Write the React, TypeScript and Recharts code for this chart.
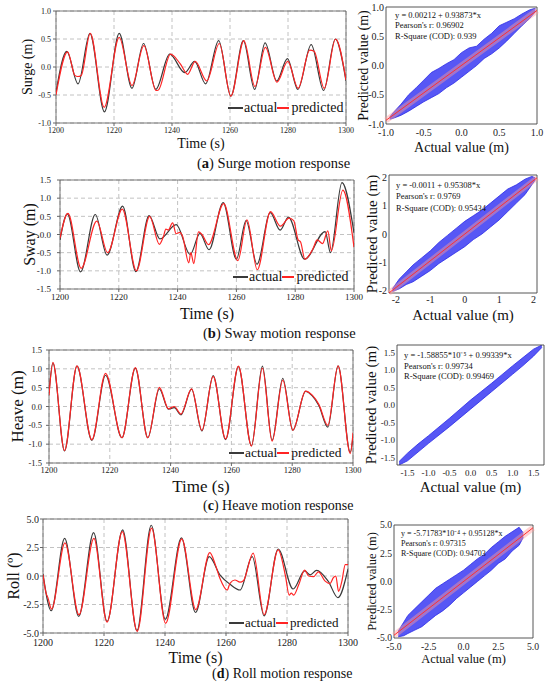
import React from 'react';
import {
  LineChart,
  Line,
  AreaChart,
  Area,
  XAxis,
  YAxis,
  CartesianGrid,
  ReferenceArea,
  ReferenceLine,
} from 'recharts';

type Pt = [number, number];
type Band = [number, number, number];
type Box = { left: number; top: number; right: number; bottom: number };

const FONT = '"Liberation Serif", "Times New Roman", serif';

// axis ticks
const timeTicks = [1200, 1220, 1240, 1260, 1280, 1300];
const surgeTicks = [-1, -0.5, 0, 0.5, 1];
const halfStepTicks = [-1.5, -1, -0.5, 0, 0.5, 1, 1.5];
const rollTicks = [-5, -2.5, 0, 2.5, 5];
const swayScatterTicks = [-2, -1, 0, 1, 2];

// time series, [time (s), value]
const surgeActual: Pt[] = [
  [1200, -0.45], [1203.7, 0.28], [1207.6, -0.3], [1211.7, 0.6], [1216.7, -0.8], [1221.8, 0.6],
  [1226.2, -0.38], [1230.2, 0.42], [1234.4, -0.4], [1239.2, 0.23], [1244.4, -0.1], [1247.8, 0.1],
  [1251.6, -0.3], [1256.1, 0.47], [1260.3, -0.52], [1264.6, 0.47], [1268.5, -0.4], [1272.1, 0.43],
  [1276.1, -0.25], [1279.8, 0.15], [1283.4, -0.4], [1288, 0.4], [1292.3, -0.42], [1296.3, 0.5],
  [1300, -0.25],
];
const surgePredicted: Pt[] = [
  [1200, -0.5], [1204, 0.27], [1206.5, -0.15], [1207.5, -0.17], [1208.7, -0.15], [1211.8, 0.6],
  [1216.6, -0.72], [1221.8, 0.53], [1226.2, -0.33], [1230.3, 0.38], [1234.5, -0.42], [1235.3, -0.41],
  [1239.5, 0.23], [1242.8, 0.06], [1245.4, -0.13], [1248, 0.1], [1252, -0.25], [1256.3, 0.42],
  [1260.3, -0.52], [1264.8, 0.47], [1268.6, -0.35], [1272.2, 0.35], [1276.2, -0.27], [1279.9, 0.1],
  [1283.5, -0.38], [1287.5, 0.3], [1289, 0.28], [1292.5, -0.38], [1296.4, 0.5], [1300, -0.23],
];
const swayActual: Pt[] = [
  [1200, -0.15], [1202.5, 0.57], [1207, -1.03], [1212, 0.55], [1216, -0.57], [1221.3, 0.78],
  [1225.8, -1.02], [1230.3, 0.52], [1234, -0.12], [1239.5, 0.27], [1244.3, -0.55], [1247.6, 0.03],
  [1250.7, -0.42], [1255.5, 0.88], [1260, -0.68], [1263.3, 0.38], [1267, -0.82], [1271.5, 0.6],
  [1274.9, 0.12], [1277.7, 0.48], [1283.2, -0.68], [1290.2, 0.08], [1292, -0.5], [1295.9, 1.43],
  [1300, 0.05],
];
const swayPredicted: Pt[] = [
  [1200, -0.1], [1202.7, 0.58], [1207.2, -0.93], [1212.5, 0.37], [1216.2, -0.5], [1221.2, 0.7],
  [1226, -1.0], [1230.5, 0.5], [1233.8, -0.27], [1235.2, -0.05], [1236, 0.15], [1236.8, 0.12],
  [1238.3, 0.32], [1239.5, 0.02], [1240.8, 0.06], [1241.7, -0.05], [1243.8, -0.78], [1244.5, -0.5],
  [1245.5, -0.8], [1247.1, 0.07], [1248.3, 0.0], [1250.5, -0.28], [1255.7, 0.85], [1260.5, -0.72],
  [1263.6, 0.4], [1267.1, -0.97], [1271.6, 0.63], [1275, 0.23], [1277.9, 0.45], [1279.5, 0.38],
  [1281, -0.15], [1281.8, -0.2], [1283.3, -0.68], [1286, -0.4], [1287.5, -0.15], [1289.3, -0.25],
  [1291.1, 0.1], [1292.3, -0.45], [1296.2, 1.22], [1300, -0.35],
];
const heaveActual: Pt[] = [
  [1200, 0.36], [1201.3, 1.15], [1205.1, -1.18], [1209.2, 1.07], [1214.1, -0.9], [1218.6, 0.83],
  [1224, -0.83], [1228.4, 1.02], [1232.5, -0.83], [1236.3, 0.47], [1239.3, -0.07], [1241.2, -0.03],
  [1243.4, -0.22], [1246.9, 0.46], [1250.3, -0.65], [1254, 0.82], [1258.1, -0.88], [1262.3, 1.06],
  [1266.6, -1.04], [1270.2, 1.07], [1273.4, -0.9], [1276.9, 0.75], [1280.2, -0.63], [1284.4, 0.4],
  [1286.6, 0.28], [1288.8, 0.02], [1291.7, -0.55], [1295.1, 1.08], [1299.1, -1.22], [1300, -0.8],
];
const heavePredicted: Pt[] = [
  [1200, 0.3], [1201.3, 1.17], [1205.1, -1.17], [1209.2, 1.08], [1214.1, -0.88], [1218.6, 0.88],
  [1224, -0.83], [1228.4, 1.03], [1232.5, -0.83], [1236.3, 0.51], [1239.3, -0.06], [1241.2, 0.0],
  [1243.4, -0.2], [1246.9, 0.47], [1250.3, -0.63], [1254, 0.8], [1258.1, -0.86], [1262.3, 1.07],
  [1266.6, -1.05], [1270.2, 1.02], [1273.4, -0.92], [1276.9, 0.7], [1280.2, -0.63], [1284.4, 0.41],
  [1286.6, 0.3], [1288.8, 0.05], [1291.7, -0.5], [1295.1, 1.08], [1299.1, -1.25], [1300, -0.7],
];
const rollActual: Pt[] = [
  [1200, 0.2], [1202.7, -3.05], [1207.1, 3.3], [1211.7, -3.55], [1216.6, 3.8], [1221, -4.0],
  [1226.1, 4.05], [1230.8, -4.8], [1235.5, 4.45], [1240.1, -3.8], [1245.4, 3.35], [1250, -3.2],
  [1254.5, 1.7], [1258, 0.1], [1261.2, -0.7], [1264.6, -1.23], [1268.6, 1.7], [1272.5, -3.5],
  [1277.1, 2.37], [1282, -1.14], [1285.8, 0.45], [1287.6, 0.1], [1289.7, 0.5], [1293.5, -0.45],
  [1296.7, -1.9], [1300, 0.6],
];
const rollPredicted: Pt[] = [
  [1200, 0.1], [1201, -1.5], [1201.6, -1.9], [1202.8, -2.9], [1207.2, 2.9], [1211.8, -3.4],
  [1216.7, 3.3], [1221, -4.05], [1226, 3.9], [1230.9, -4.85], [1235.6, 4.2], [1240.2, -4.15],
  [1245.5, 3.25], [1250.1, -2.95], [1254.7, 2.05], [1256.5, 1.0], [1258, -0.2], [1260.4, -1.23],
  [1261.3, -0.64], [1262.9, -0.35], [1264.6, -0.54], [1265.7, -0.42], [1268.9, 2.0], [1272.5, -3.4],
  [1277.1, 2.3], [1279.5, 0.0], [1280.7, -1.67], [1281.4, -1.5], [1282.2, -1.67], [1283.8, -0.8],
  [1285.8, 0.52], [1287.1, 0.0], [1288.7, -0.06], [1290.3, 0.37], [1292.5, -0.45], [1294.1, -0.67],
  [1295.2, -0.15], [1296, 0.0], [1296.9, -1.34], [1298, -0.45], [1299.1, 1.0], [1300, 1.0],
];

// scatter clouds, [actual, lowest predicted, highest predicted]
const surgeCloud: Band[] = [
  [-0.95, -0.92, -0.88], [-0.9, -0.9, -0.8], [-0.8, -0.85, -0.66], [-0.7, -0.78, -0.5],
  [-0.6, -0.7, -0.38], [-0.5, -0.62, -0.25], [-0.4, -0.55, -0.12],
  [-0.3, -0.48, -0.05], [-0.2, -0.38, 0.03], [-0.1, -0.3, 0.1], [0, -0.2, 0.22], [0.1, -0.1, 0.3],
  [0.2, 0.0, 0.33], [0.3, 0.12, 0.45], [0.4, 0.2, 0.55], [0.5, 0.3, 0.68], [0.6, 0.42, 0.74],
  [0.7, 0.55, 0.8], [0.8, 0.68, 0.88], [0.9, 0.8, 0.95], [0.98, 0.92, 0.98],
];
const swayCloud: Band[] = [
  [-2.1, -2.05, -1.95], [-1.9, -1.95, -1.6], [-1.7, -1.8, -1.35], [-1.5, -1.7, -1.1],
  [-1.25, -1.5, -0.85], [-1, -1.3, -0.6], [-0.75, -1.05, -0.3], [-0.5, -0.85, -0.05],
  [-0.25, -0.65, 0.2], [0, -0.45, 0.45], [0.25, -0.2, 0.65], [0.5, 0.0, 0.85], [0.75, 0.25, 1.1],
  [1, 0.5, 1.35], [1.25, 0.8, 1.6], [1.5, 1.1, 1.75], [1.75, 1.4, 1.95], [1.95, 1.75, 2.05],
  [2.05, 1.92, 2.0],
];
const heaveCloud: Band[] = [
  [-1.7, -1.72, -1.62], [-1.5, -1.6, -1.38], [-1.25, -1.35, -1.12], [-1, -1.1, -0.88],
  [-0.75, -0.86, -0.63], [-0.5, -0.62, -0.38], [-0.25, -0.37, -0.12], [0, -0.12, 0.14],
  [0.25, 0.13, 0.38], [0.5, 0.38, 0.62], [0.75, 0.63, 0.87], [1, 0.88, 1.12], [1.25, 1.13, 1.36],
  [1.5, 1.4, 1.6], [1.7, 1.65, 1.72],
];
const rollCloud: Band[] = [
  [-4.7, -4.9, -4.4], [-4.3, -4.8, -3.6], [-4, -4.6, -3.0], [-3.5, -4.3, -2.4], [-3, -4.0, -1.8],
  [-2.5, -3.5, -1.2], [-2, -3.0, -0.6], [-1.5, -2.6, -0.2], [-1, -2.1, 0.2], [-0.5, -1.5, 0.6],
  [0, -1.0, 1.0], [0.5, -0.5, 1.5], [1, 0.0, 2.0], [1.5, 0.5, 2.4], [2, 1.0, 3.0], [2.5, 1.6, 3.5],
  [3, 2.0, 4.0], [3.5, 2.7, 4.4], [4, 3.2, 4.8], [4.3, 3.9, 4.3],
];

// fitted lines, endpoints
const surgeFit: Pt[] = [[-1, -0.937], [1, 0.941]];
const swayFit: Pt[] = [[-2.2, -2.098], [2.1, 2.0]];
const heaveFit: Pt[] = [[-1.75, -1.738], [1.75, 1.738]];
const rollFit: Pt[] = [[-5, -4.757], [5, 4.756]];

const surgeStats = ['y = 0.00212 + 0.93873*x', "Pearson's r: 0.96902", 'R-Square (COD): 0.939'];
const swayStats = ['y = -0.0011 + 0.95308*x', "Pearson's r: 0.9769", 'R-Square (COD): 0.95434'];
const heaveStats = ['y = -1.58855*10⁻⁵ + 0.99339*x', "Pearson's r: 0.99734", 'R-Square (COD): 0.99469'];
const rollStats = ['y = -5.71783*10⁻⁴ + 0.95128*x', "Pearson's r: 0.97315", 'R-Square (COD): 0.94703'];

function mergeSeries(actual: Pt[], predicted: Pt[]) {
  const rows = new Map<number, { t: number; actual?: number; predicted?: number }>();
  actual.forEach(([t, v]) => rows.set(t, { ...(rows.get(t) ?? { t }), actual: v }));
  predicted.forEach(([t, v]) => rows.set(t, { ...(rows.get(t) ?? { t }), predicted: v }));
  return [...rows.values()].sort((a, b) => a.t - b.t);
}

const fixed1 = (v: number) => v.toFixed(1);

type TSProps = {
  box: Box;
  actual: Pt[];
  predicted: Pt[];
  yDomain: [number, number];
  yTicks: number[];
  yLabel: string;
  yLabelX: number;
  xLabelBase: number;
  labelSize: number;
  tickSize: number;
  xTickGap: number;
  yTickGap: number;
};

function TimeSeries(p: TSProps) {
  const { box } = p;
  const padT = 6;
  const padR = 14;
  const xAxisH = p.xLabelBase + 4 - box.bottom;
  const height = padT + (box.bottom - box.top) + xAxisH;
  const tick = { fill: '#222', fontSize: p.tickSize, fontFamily: FONT };
  const labelStyle = { fontSize: p.labelSize, fontFamily: FONT, fill: '#111', textAnchor: 'middle' as const };
  return (
    <div style={{ position: 'absolute', left: 0, top: box.top - padT }}>
      <LineChart
        width={box.right + padR}
        height={height}
        data={mergeSeries(p.actual, p.predicted)}
        margin={{ top: padT, right: padR, left: 0, bottom: 0 }}
      >
        <CartesianGrid stroke="#c2c2c2" strokeDasharray="4 3" />
        <XAxis
          type="number"
          dataKey="t"
          domain={[1200, 1300]}
          ticks={timeTicks}
          interval={0}
          allowDataOverflow
          axisLine={false}
          tickLine={{ stroke: '#666' }}
          tickSize={3}
          tickMargin={p.xTickGap}
          height={xAxisH}
          tick={tick}
          label={{ value: 'Time (s)', position: 'insideBottom', offset: 4, style: labelStyle }}
        />
        <YAxis
          type="number"
          domain={p.yDomain}
          ticks={p.yTicks}
          interval={0}
          allowDataOverflow
          axisLine={false}
          tickLine={{ stroke: '#666' }}
          tickSize={3}
          tickMargin={p.yTickGap}
          width={box.left}
          tick={tick}
          tickFormatter={fixed1}
          label={{ value: p.yLabel, angle: -90, position: 'insideLeft', offset: p.yLabelX, style: labelStyle }}
        />
        <ReferenceArea x1={1200} x2={1300} y1={p.yDomain[0]} y2={p.yDomain[1]} fill="none" stroke="#555" strokeWidth={0.8} />
        <Line dataKey="actual" type="monotone" stroke="#3a3a3a" strokeWidth={1.2} dot={false} activeDot={false} connectNulls isAnimationActive={false} />
        <Line dataKey="predicted" type="monotone" stroke="#ff2424" strokeWidth={1.2} dot={false} activeDot={false} connectNulls isAnimationActive={false} />
      </LineChart>
    </div>
  );
}

function LegendBox({ left, y, size }: { left: number; y: number; size: number }) {
  return (
    <div
      style={{
        position: 'absolute', left, top: y - 9, height: 18, display: 'flex', alignItems: 'center',
        fontFamily: FONT, fontSize: size, color: '#111', whiteSpace: 'nowrap', lineHeight: '18px',
      }}
    >
      <span style={{ display: 'inline-block', width: 15, height: 1.6, background: '#3a3a3a' }} />
      <span style={{ marginLeft: 1 }}>actual</span>
      <span style={{ display: 'inline-block', width: 12, height: 1.6, background: '#ff2424' }} />
      <span style={{ marginLeft: 2 }}>predicted</span>
    </div>
  );
}

type SCProps = {
  box: Box;
  cloud: Band[];
  fit: Pt[];
  bandWidth: number;
  xDomain: [number, number];
  yDomain: [number, number];
  ticks: number[];
  fmt: (v: number) => string;
  tickSize: number;
  xTickGap: number;
  labelSize: number;
  yLabelX: number;
  xLabelBase: number;
  stats: string[];
  statsPos: { left: number; top: number; size: number; lh: number };
};

function Scatter(p: SCProps) {
  const { box } = p;
  const originX = 355;
  const padT = 8;
  const padR = Math.min(12, 550 - box.right);
  const xAxisH = p.xLabelBase + 4 - box.bottom;
  const height = padT + (box.bottom - box.top) + xAxisH;
  const data = p.cloud.map(([x, lo, hi]) => ({ x, range: [lo, hi] }));
  const tick = { fill: '#222', fontSize: p.tickSize, fontFamily: FONT };
  const labelStyle = { fontSize: p.labelSize, fontFamily: FONT, fill: '#111', textAnchor: 'middle' as const };
  const seg = p.fit.map(([x, y]) => ({ x, y }));
  return (
    <>
      <div style={{ position: 'absolute', left: originX, top: box.top - padT }}>
        <AreaChart
          width={box.right + padR - originX}
          height={height}
          data={data}
          margin={{ top: padT, right: padR, left: 0, bottom: 0 }}
        >
          <XAxis
            type="number"
            dataKey="x"
            domain={p.xDomain}
            ticks={p.ticks}
            interval={0}
            allowDataOverflow
            axisLine={false}
            tickLine={false}
            tickSize={0}
            tickMargin={p.xTickGap}
            height={xAxisH}
            tick={tick}
            tickFormatter={p.fmt}
            label={{ value: 'Actual value (m)', position: 'insideBottom', offset: 4, style: labelStyle }}
          />
          <YAxis
            type="number"
            domain={p.yDomain}
            ticks={p.ticks}
            interval={0}
            allowDataOverflow
            axisLine={false}
            tickLine={false}
            tickSize={0}
            tickMargin={2}
            width={box.left - originX}
            tick={tick}
            tickFormatter={p.fmt}
            label={{ value: 'Predicted value (m)', angle: -90, position: 'insideLeft', offset: p.yLabelX - originX, style: labelStyle }}
          />
          <Area
            dataKey="range"
            type="linear"
            stroke="#2a2ae6"
            strokeWidth={0.8}
            fill="#4040f4"
            fillOpacity={0.88}
            dot={false}
            activeDot={false}
            isAnimationActive={false}
          />
          <ReferenceLine segment={seg} stroke="#ff9c9c" strokeOpacity={0.45} strokeWidth={p.bandWidth} />
          <ReferenceLine segment={seg} stroke="#ff3030" strokeWidth={1} />
          <ReferenceArea x1={p.xDomain[0]} x2={p.xDomain[1]} y1={p.yDomain[0]} y2={p.yDomain[1]} fill="none" stroke="#444" strokeWidth={0.9} />
        </AreaChart>
      </div>
      <div
        style={{
          position: 'absolute', left: p.statsPos.left, top: p.statsPos.top, fontFamily: FONT,
          fontSize: p.statsPos.size, lineHeight: `${p.statsPos.lh}px`, color: '#111', whiteSpace: 'nowrap',
        }}
      >
        {p.stats.map((s) => (
          <div key={s}>{s}</div>
        ))}
      </div>
    </>
  );
}

function Caption({ left, y, size, tag, text }: { left: number; y: number; size: number; tag: string; text: string }) {
  return (
    <div
      style={{
        position: 'absolute', left, top: y - 9, lineHeight: '18px', fontFamily: FONT, fontSize: size,
        color: '#111', whiteSpace: 'nowrap',
      }}
    >
      (<b>{tag}</b>) {text}
    </div>
  );
}

export default function App() {
  return (
    <div
      style={{
        position: 'absolute', left: 0, top: 0, width: 550, height: 687, background: '#fff',
        overflow: 'hidden', fontFamily: FONT,
      }}
    >
      {/* (a) surge */}
      <TimeSeries
        box={{ left: 56, top: 11, right: 346, bottom: 123 }}
        actual={surgeActual} predicted={surgePredicted}
        yDomain={[-1, 1]} yTicks={surgeTicks} yLabel="Surge (m)" yLabelX={27}
        xLabelBase={148} labelSize={14} tickSize={8} xTickGap={1} yTickGap={2}
      />
      <LegendBox left={228} y={108} size={14} />
      <Scatter
        box={{ left: 386, top: 7, right: 537, bottom: 124 }}
        cloud={surgeCloud} fit={surgeFit} bandWidth={6}
        xDomain={[-1, 1]} yDomain={[-1, 1]} ticks={surgeTicks} fmt={fixed1}
        tickSize={10} xTickGap={5} labelSize={14} yLabelX={363} xLabelBase={152}
        stats={surgeStats} statsPos={{ left: 395, top: 9.5, size: 8.5, lh: 10.5 }}
      />
      <Caption left={197} y={163} size={14.5} tag="a" text="Surge motion response" />

      {/* (b) sway */}
      <TimeSeries
        box={{ left: 60, top: 180, right: 354, bottom: 289 }}
        actual={swayActual} predicted={swayPredicted}
        yDomain={[-1.5, 1.5]} yTicks={halfStepTicks} yLabel="Sway (m)" yLabelX={29}
        xLabelBase={319} labelSize={16} tickSize={9} xTickGap={2} yTickGap={6}
      />
      <LegendBox left={233} y={277} size={14} />
      <Scatter
        box={{ left: 389, top: 175, right: 537, bottom: 293 }}
        cloud={swayCloud} fit={swayFit} bandWidth={5.5}
        xDomain={[-2.2, 2.1]} yDomain={[-2.1, 2.1]} ticks={swayScatterTicks} fmt={(v) => String(v)}
        tickSize={10} xTickGap={3} labelSize={15} yLabelX={372} xLabelBase={320}
        stats={swayStats} statsPos={{ left: 396, top: 179.5, size: 8.5, lh: 11.5 }}
      />
      <Caption left={203} y={333} size={14.5} tag="b" text="Sway motion response" />

      {/* (c) heave */}
      <TimeSeries
        box={{ left: 49, top: 350, right: 353, bottom: 463 }}
        actual={heaveActual} predicted={heavePredicted}
        yDomain={[-1.5, 1.5]} yTicks={halfStepTicks} yLabel="Heave (m)" yLabelX={17}
        xLabelBase={492} labelSize={17} tickSize={8.5} xTickGap={1} yTickGap={4}
      />
      <LegendBox left={229} y={453} size={13.5} />
      <Scatter
        box={{ left: 397, top: 345, right: 544, bottom: 465 }}
        cloud={heaveCloud} fit={heaveFit} bandWidth={2.5}
        xDomain={[-1.75, 1.75]} yDomain={[-1.72, 1.72]} ticks={halfStepTicks} fmt={fixed1}
        tickSize={9} xTickGap={5} labelSize={15} yLabelX={371} xLabelBase={492}
        stats={heaveStats} statsPos={{ left: 404, top: 350, size: 8.5, lh: 10.5 }}
      />
      <Caption left={203} y={506} size={14} tag="c" text="Heave motion response" />

      {/* (d) roll */}
      <TimeSeries
        box={{ left: 43, top: 519, right: 348, bottom: 633 }}
        actual={rollActual} predicted={rollPredicted}
        yDomain={[-5, 5]} yTicks={rollTicks} yLabel="Roll (º)" yLabelX={13}
        xLabelBase={663} labelSize={16} tickSize={10} xTickGap={3} yTickGap={1}
      />
      <LegendBox left={229} y={623} size={13} />
      <Scatter
        box={{ left: 394, top: 525, right: 533, bottom: 638 }}
        cloud={rollCloud} fit={rollFit} bandWidth={6}
        xDomain={[-5, 5]} yDomain={[-5, 5]} ticks={rollTicks} fmt={fixed1}
        tickSize={9.7} xTickGap={5.5} labelSize={12.5} yLabelX={372} xLabelBase={663}
        stats={rollStats} statsPos={{ left: 401, top: 529, size: 8, lh: 10 }}
      />
      <Caption left={212} y={674} size={14} tag="d" text="Roll motion response" />
    </div>
  );
}
